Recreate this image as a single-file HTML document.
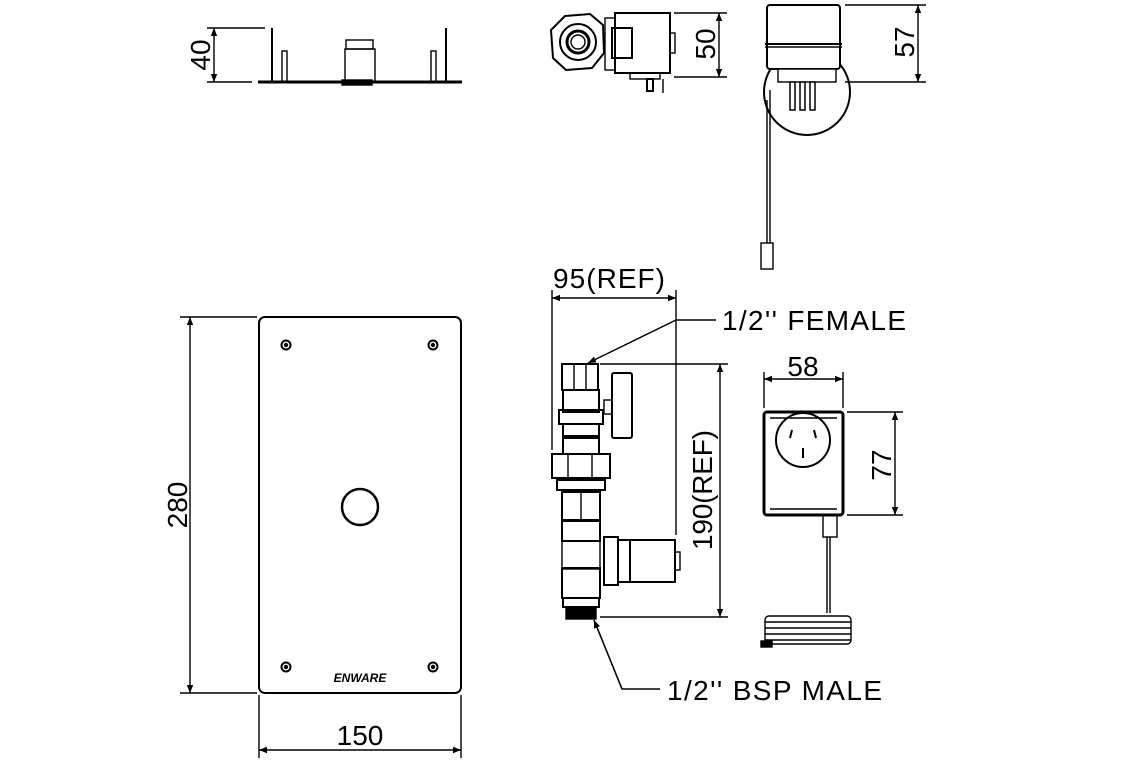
<!DOCTYPE html>
<html><head><meta charset="utf-8"><style>
html,body{margin:0;padding:0;background:#fff;}
svg{display:block;}
text{font-family:"Liberation Sans",sans-serif;fill:#000;}
</style></head><body>
<svg width="1140" height="760" viewBox="0 0 1140 760" xmlns="http://www.w3.org/2000/svg">
<defs>
<marker id="a" viewBox="0 0 10 10" refX="10" refY="5" markerWidth="16" markerHeight="8" markerUnits="userSpaceOnUse" orient="auto-start-reverse"><path d="M0,1 L10,5 L0,9 z" fill="#000"/></marker>
</defs>
<g fill="none" stroke="#000" stroke-width="1.4">
<!-- top-left plate -->
<line x1="258" y1="82" x2="462" y2="82" stroke-width="3"/>
<rect x="342" y="80" width="30" height="5" fill="#000"/>
<line x1="272" y1="28" x2="272" y2="82" stroke-width="2"/>
<line x1="446" y1="28" x2="446" y2="82" stroke-width="2"/>
<rect x="282" y="51" width="5" height="31"/>
<rect x="431" y="51" width="5" height="31"/>
<rect x="345" y="49" width="30" height="33"/>
<rect x="346" y="40" width="27" height="9"/>
<line x1="207" y1="28" x2="265" y2="28"/>
<line x1="207" y1="82" x2="252" y2="82"/>
<line x1="214" y1="28" x2="214" y2="82" marker-start="url(#a)" marker-end="url(#a)"/>

<!-- solenoid top -->
<polygon points="565,16 590,14 603,25 604,53 592,68 566,70 553,58 551,30" stroke-width="2"/>
<circle cx="578" cy="42" r="18" stroke-width="2"/>
<circle cx="578" cy="42" r="11" stroke-width="3"/>
<circle cx="578" cy="42" r="7"/>
<rect x="605" y="18" width="10" height="52"/>
<rect x="612" y="28" width="20" height="30" stroke-width="2"/>
<rect x="615" y="13" width="55" height="60" stroke-width="2"/>
<rect x="670" y="33" width="5" height="20"/>
<rect x="630" y="73" width="30" height="6"/>
<rect x="647" y="79" width="6" height="12" stroke-width="2"/>
<line x1="663" y1="79" x2="663" y2="93"/>
<line x1="674" y1="13" x2="727" y2="13"/>
<line x1="674" y1="77" x2="727" y2="77"/>
<line x1="719" y1="13" x2="719" y2="77" marker-start="url(#a)" marker-end="url(#a)"/>

<!-- sensor top -->
<circle cx="807" cy="92" r="43" stroke-width="2"/>
<rect x="767" y="5" width="73" height="64" rx="3" stroke-width="2" fill="#fff"/>
<line x1="765" y1="44" x2="842" y2="44" stroke-width="2"/>
<line x1="765" y1="47" x2="842" y2="47"/>
<rect x="778" y="69" width="58" height="13" fill="#fff"/>
<rect x="790" y="82" width="5" height="28" fill="#fff" stroke-width="1.5"/>
<rect x="800" y="82" width="5" height="28" fill="#fff" stroke-width="1.5"/>
<rect x="810" y="82" width="5" height="28" fill="#fff" stroke-width="1.5"/>
<line x1="767" y1="100" x2="767" y2="243"/>
<line x1="770" y1="90" x2="770" y2="243"/>
<rect x="761" y="243" width="12" height="26"/>
<line x1="845" y1="5" x2="926" y2="5"/>
<line x1="845" y1="82" x2="926" y2="82"/>
<line x1="918" y1="5" x2="918" y2="82" marker-start="url(#a)" marker-end="url(#a)"/>

<!-- panel -->
<rect x="259" y="317" width="202" height="376" rx="6" stroke-width="2"/>
<circle cx="286" cy="345" r="4.5" stroke-width="2"/><circle cx="286" cy="345" r="1.5" fill="#000"/>
<circle cx="433" cy="345" r="4.5" stroke-width="2"/><circle cx="433" cy="345" r="1.5" fill="#000"/>
<circle cx="286" cy="667" r="4.5" stroke-width="2"/><circle cx="286" cy="667" r="1.5" fill="#000"/>
<circle cx="433" cy="667" r="4.5" stroke-width="2"/><circle cx="433" cy="667" r="1.5" fill="#000"/>
<circle cx="360" cy="507" r="18" stroke-width="2.5"/>
<line x1="180" y1="317" x2="257" y2="317"/>
<line x1="180" y1="693" x2="257" y2="693"/>
<line x1="190" y1="317" x2="190" y2="693" marker-start="url(#a)" marker-end="url(#a)"/>
<line x1="259" y1="695" x2="259" y2="758"/>
<line x1="461" y1="695" x2="461" y2="758"/>
<line x1="259" y1="750" x2="461" y2="750" marker-start="url(#a)" marker-end="url(#a)"/>

<!-- valve assembly -->
<line x1="552" y1="290" x2="552" y2="450"/>
<line x1="676" y1="290" x2="676" y2="535"/>
<line x1="552" y1="298" x2="676" y2="298" marker-start="url(#a)" marker-end="url(#a)"/>
<line x1="676" y1="320" x2="716" y2="320"/>
<line x1="676" y1="320" x2="588" y2="363" marker-end="url(#a)"/>
<rect x="562" y="364" width="36" height="26" stroke-width="2"/>
<line x1="574" y1="364" x2="574" y2="390"/><line x1="586" y1="364" x2="586" y2="390"/>
<rect x="563" y="390" width="36" height="22" stroke-width="2"/>
<rect x="559" y="410" width="44" height="14" stroke-width="2"/>
<rect x="563" y="424" width="36" height="12" stroke-width="2"/>
<rect x="612" y="373" width="20" height="65" rx="2" stroke-width="2"/>
<rect x="604" y="400" width="8" height="14"/>
<rect x="563" y="438" width="36" height="16" stroke-width="2"/>
<rect x="552" y="454" width="58" height="24" stroke-width="2"/>
<line x1="568" y1="454" x2="568" y2="478"/><line x1="592" y1="454" x2="592" y2="478"/>
<rect x="557" y="480" width="48" height="10" stroke-width="2"/>
<rect x="562" y="492" width="38" height="28" stroke-width="2"/>
<line x1="581" y1="492" x2="581" y2="520"/>
<rect x="562" y="521" width="38" height="20" stroke-width="2"/>
<rect x="562" y="541" width="38" height="28"/>
<rect x="562" y="568" width="38" height="30" stroke-width="2"/>
<rect x="604" y="537" width="14" height="48" stroke-width="2"/>
<rect x="618" y="540" width="12" height="42" stroke-width="2"/>
<rect x="630" y="540" width="45" height="42" stroke-width="2"/>
<rect x="675" y="552" width="5" height="18"/>
<rect x="563" y="598" width="36" height="9" stroke-width="2"/>
<rect x="566" y="607" width="30" height="12" fill="#000"/>
<line x1="600" y1="364" x2="728" y2="364"/>
<line x1="600" y1="617" x2="728" y2="617"/>
<line x1="720" y1="364" x2="720" y2="617" marker-start="url(#a)" marker-end="url(#a)"/>
<polyline points="660,689 622,689 594,620"/>
<line x1="622" y1="689" x2="594" y2="620" marker-end="url(#a)"/>

<!-- adapter -->
<rect x="764" y="412" width="79" height="103" rx="3" stroke-width="3"/>
<line x1="770" y1="418" x2="837" y2="418"/><line x1="770" y1="509" x2="837" y2="509"/>
<circle cx="803" cy="440" r="27" stroke-width="2"/>
<line x1="792" y1="430" x2="790" y2="438" stroke-width="2"/>
<line x1="814" y1="430" x2="816" y2="438" stroke-width="2"/>
<line x1="803" y1="448" x2="803" y2="458" stroke-width="2"/>
<rect x="823" y="515" width="14" height="22"/>
<line x1="827" y1="537" x2="827" y2="613"/><line x1="830" y1="537" x2="830" y2="613"/>
<rect x="765" y="616" width="86" height="28" rx="4"/>
<line x1="765" y1="622" x2="851" y2="622"/><line x1="765" y1="628" x2="851" y2="628"/>
<line x1="765" y1="634" x2="851" y2="634"/><line x1="765" y1="640" x2="851" y2="640"/>
<rect x="761" y="641" width="11" height="6" fill="#000"/>
<line x1="764" y1="372" x2="764" y2="408"/>
<line x1="843" y1="372" x2="843" y2="408"/>
<line x1="764" y1="379" x2="843" y2="379" marker-start="url(#a)" marker-end="url(#a)"/>
<line x1="847" y1="412" x2="903" y2="412"/>
<line x1="847" y1="515" x2="903" y2="515"/>
<line x1="895" y1="412" x2="895" y2="515" marker-start="url(#a)" marker-end="url(#a)"/>
</g>
<text x="360" y="682" font-size="12" font-weight="bold" font-style="italic" text-anchor="middle">ENWARE</text>
<text font-size="28" transform="translate(210,55) rotate(-90)" text-anchor="middle">40</text>
<text font-size="28" transform="translate(715,44) rotate(-90)" text-anchor="middle">50</text>
<text font-size="28" transform="translate(914,42) rotate(-90)" text-anchor="middle">57</text>
<text font-size="28" transform="translate(187,505) rotate(-90)" text-anchor="middle">280</text>
<text font-size="28" x="360" y="745" text-anchor="middle">150</text>
<text font-size="28" x="553" y="288" textLength="112">95(REF)</text>
<text font-size="28" x="722" y="330" textLength="184">1/2'' FEMALE</text>
<text font-size="28" transform="translate(712,490) rotate(-90)" text-anchor="middle" textLength="120">190(REF)</text>
<text font-size="28" x="803" y="376" text-anchor="middle">58</text>
<text font-size="28" transform="translate(891,465) rotate(-90)" text-anchor="middle">77</text>
<text font-size="28" x="667" y="700" textLength="215">1/2'' BSP MALE</text>
</svg>
</body></html>
